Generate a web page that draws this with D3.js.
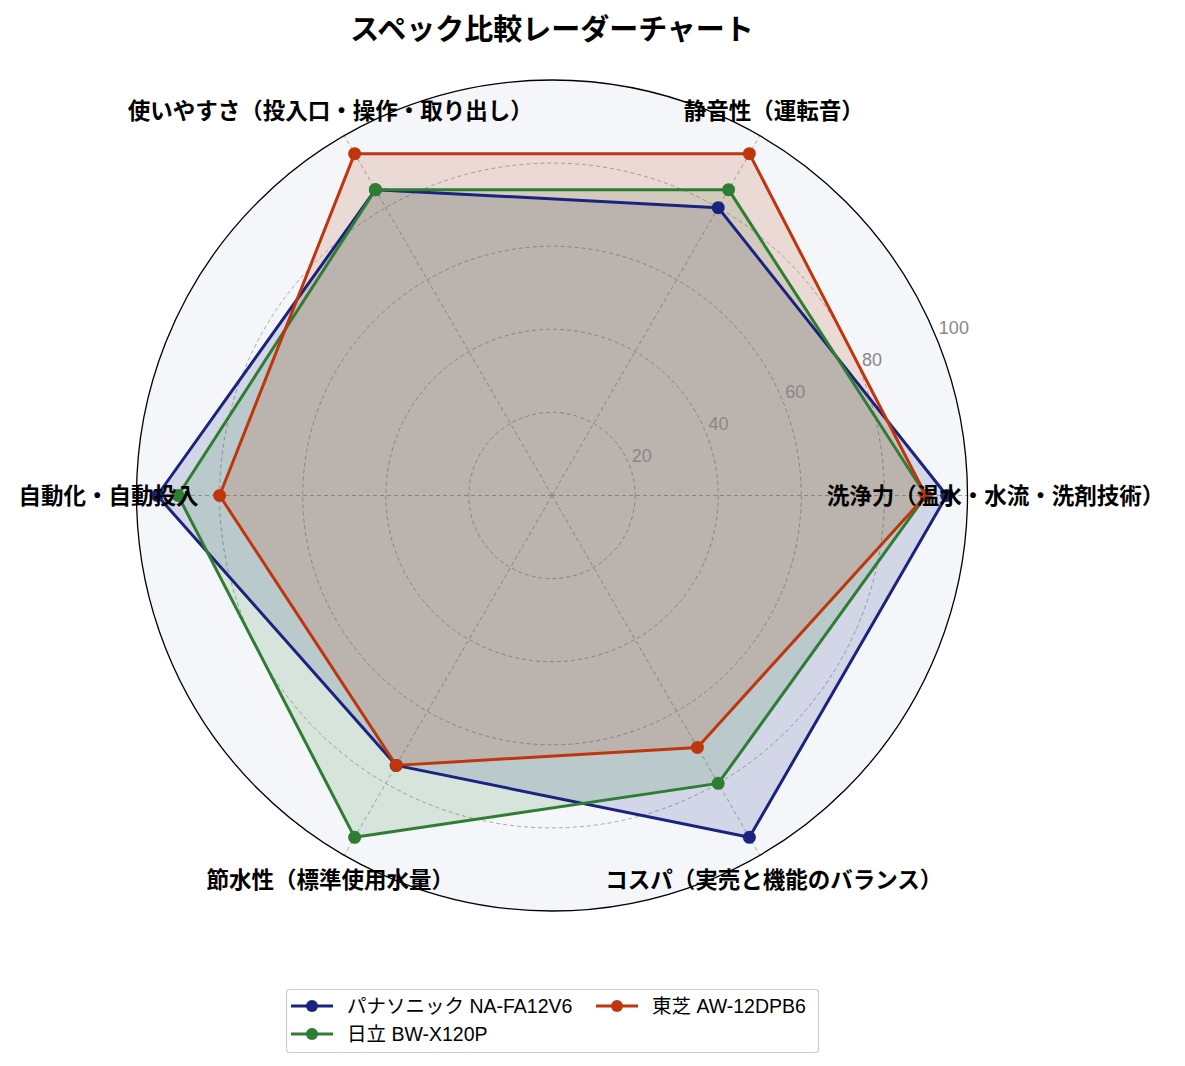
<!DOCTYPE html>
<html lang="ja">
<head>
<meta charset="UTF-8">
<title>スペック比較レーダーチャート</title>
<script src="https://d3js.org/d3.v7.min.js"></script>
<style>
  body { margin: 0; background: #fff; }
  svg { display: block; font-family: "Noto Sans CJK JP", "Noto Sans", sans-serif; }
</style>
</head>
<body>
<svg width="1185" height="1066"></svg>
<script>
// categories (counter-clockwise from the right)
const categories = [
    "洗浄力（温水・水流・洗剤技術）",
    "静音性（運転音）",
    "使いやすさ（投入口・操作・取り出し）",
    "自動化・自動投入",
    "節水性（標準使用水量）",
    "コスパ（実売と機能のバランス）"
];
const seriesNames = ["パナソニック NA-FA12V6", "日立 BW-X120P", "東芝 AW-12DPB6"];
const panasonicValues = [95, 80, 85, 95, 75, 95];
const hitachiValues = [90, 85, 85, 90, 95, 80];
const toshibaValues = [90, 95, 95, 80, 75, 70];
const seriesColors = ["#1a237e", "#2e7d32", "#bf360c"];
const tickValues = [20, 40, 60, 80, 100];

const series = [panasonicValues, hitachiValues, toshibaValues].map((v, i) => ({
    name: seriesNames[i], values: v, color: seriesColors[i]
}));

const svg = d3.select("svg");
const cx = 552, cy = 495.5, R = 415.5;

const rScale = d3.scaleLinear().domain([0, 100]).range([0, R]);
const angle = d3.scaleLinear().domain([0, categories.length]).range([0, 2 * Math.PI]);
// angle measured counter-clockwise from the right
const px = (i, v) => cx + rScale(v) * Math.cos(angle(i));
const py = (i, v) => cy - rScale(v) * Math.sin(angle(i));

// title
svg.append("text")
    .attr("x", cx).attr("y", 27)
    .attr("text-anchor", "middle").attr("dominant-baseline", "central")
    .style("font-size", "29px").style("font-weight", "bold")
    .text("スペック比較レーダーチャート");

// background
svg.append("circle")
    .attr("cx", cx).attr("cy", cy).attr("r", R)
    .attr("fill", "#f4f6fa");

// grid circles
svg.append("g").selectAll("circle")
    .data(tickValues.slice(0, -1))
    .join("circle")
    .attr("cx", cx).attr("cy", cy)
    .attr("r", d => rScale(d))
    .attr("fill", "none")
    .attr("stroke", "#a0a0a0")
    .attr("stroke-width", 0.9)
    .attr("stroke-dasharray", "4,3");

// radial lines
svg.append("g").selectAll("line")
    .data(categories)
    .join("line")
    .attr("x1", cx).attr("y1", cy)
    .attr("x2", (d, i) => px(i, 100))
    .attr("y2", (d, i) => py(i, 100))
    .attr("stroke", "#a0a0a0")
    .attr("stroke-width", 0.9)
    .attr("stroke-dasharray", "4,3");

// series: fills first, then lines and markers on top
const line = d3.line().x(d => d[0]).y(d => d[1]);
series.forEach(s => {
    s.pts = s.values.map((v, i) => [px(i, v), py(i, v)]);
});
const fills = svg.append("g");
series.forEach(s => {
    fills.append("path")
        .attr("d", line(s.pts) + "Z")
        .attr("fill", s.color)
        .attr("fill-opacity", 0.15);
});
const lines = svg.append("g");
series.forEach(s => {
    lines.append("path")
        .attr("d", line(s.pts) + "Z")
        .attr("fill", "none")
        .attr("stroke", s.color)
        .attr("stroke-width", 3)
        .attr("stroke-linejoin", "round");
    lines.append("g").selectAll("circle")
        .data(s.pts)
        .join("circle")
        .attr("cx", d => d[0]).attr("cy", d => d[1])
        .attr("r", 6.5)
        .attr("fill", s.color);
});

// outer circle
svg.append("circle")
    .attr("cx", cx).attr("cy", cy).attr("r", R)
    .attr("fill", "none")
    .attr("stroke", "#000")
    .attr("stroke-width", 1.3);

// tick labels along 22.5 deg
const tickAngle = Math.PI / 8;
svg.append("g").selectAll("text")
    .data(tickValues)
    .join("text")
    .attr("x", d => cx + rScale(d) * Math.cos(tickAngle) + 3)
    .attr("y", d => cy - rScale(d) * Math.sin(tickAngle) - 2)
    .attr("fill", "#888")
    .style("font-size", "18px")
    .style("font-family", "'Liberation Sans', Arial, sans-serif")
    .text(d => d);

// category labels
svg.append("g").selectAll("text")
    .data(categories)
    .join("text")
    .attr("x", (d, i) => cx + (R + 28) * Math.cos(angle(i)))
    .attr("y", (d, i) => cy - (R + 28) * Math.sin(angle(i)) - 2)
    .attr("text-anchor", "middle")
    .attr("dominant-baseline", "central")
    .style("font-size", "22.5px")
    .style("font-weight", "bold")
    .text(d => d);

// legend
const legend = svg.append("g");
legend.append("rect")
    .attr("x", 286.5).attr("y", 989.5)
    .attr("width", 532).attr("height", 63)
    .attr("rx", 3)
    .attr("fill", "#fff")
    .attr("stroke", "#ccc")
    .attr("stroke-width", 1.2);
const legendPos = [[291, 1006], [291, 1034], [596, 1006]];
series.forEach((s, i) => {
    const [lx, ly] = legendPos[i];
    legend.append("line")
        .attr("x1", lx).attr("x2", lx + 42)
        .attr("y1", ly).attr("y2", ly)
        .attr("stroke", s.color).attr("stroke-width", 3);
    legend.append("circle")
        .attr("cx", lx + 21).attr("cy", ly).attr("r", 6)
        .attr("fill", s.color);
    legend.append("text")
        .attr("x", lx + 56).attr("y", ly)
        .attr("dominant-baseline", "central")
        .style("font-size", "19.5px")
        .style("font-family", "'Liberation Sans', 'Noto Sans CJK JP', sans-serif")
        .text(s.name);
});
</script>
</body>
</html>
